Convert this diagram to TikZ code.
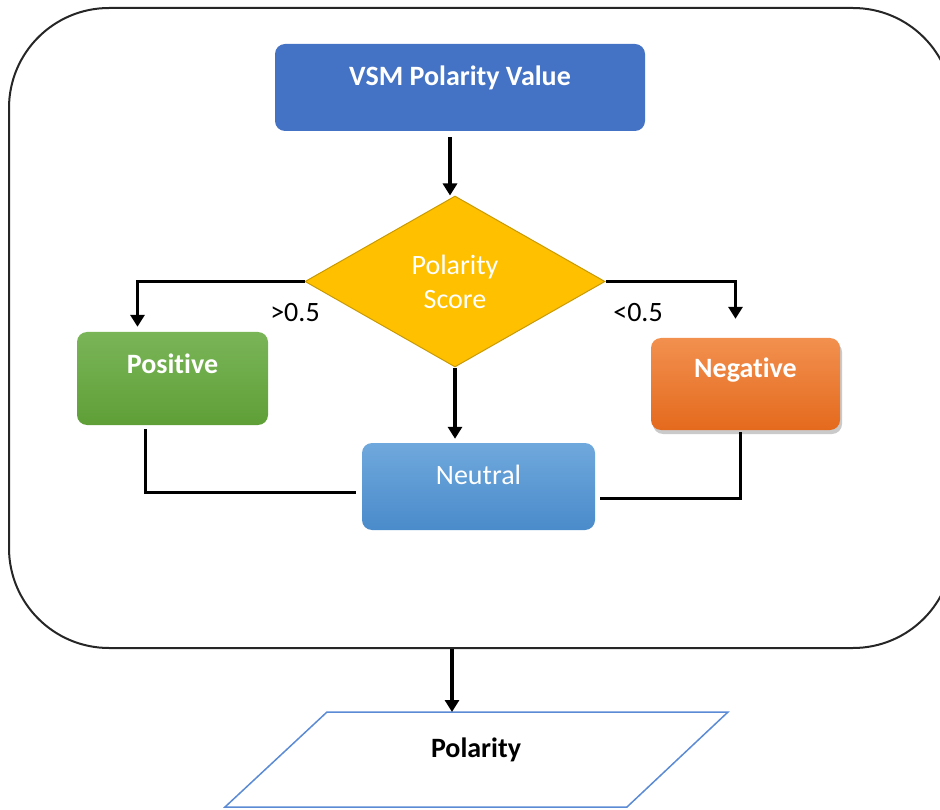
\documentclass[tikz,border=0pt]{standalone}
\usepackage{fontspec}
\setmainfont{Carlito}[Ligatures=NoCommon]
\usetikzlibrary{shapes.geometric,arrows.meta,shadows,calc}

\definecolor{vsmblue}{HTML}{4472C4}
\definecolor{gold}{HTML}{FFC000}
\definecolor{golddark}{HTML}{C99A00}
\definecolor{greentop}{HTML}{7AB558}
\definecolor{greenbot}{HTML}{5F9F37}
\definecolor{orangetop}{HTML}{F2904F}
\definecolor{orangebot}{HTML}{E46A1D}
\definecolor{bluetop}{HTML}{6FA8DC}
\definecolor{bluebot}{HTML}{4A8BCB}
\definecolor{outline}{HTML}{5B8BD5}

\tikzset{
  every node/.style={font=\fontsize{28}{34}\selectfont},
  flowbox/.style={rectangle, rounded corners=10pt, draw=none, inner sep=0pt},
  boxtext/.style={text=white},
  boldtext/.style={font=\fontsize{28}{34}\selectfont\bfseries},
  conn/.style={line width=3.2pt, black},
  arr/.style={conn, -{Triangle[width=14pt,length=12pt]}},
  cond/.style={text=black},
}

\begin{document}
\begin{tikzpicture}[x=1pt,y=-1pt]
  \useasboundingbox (0,0) rectangle (940,810);
  \clip (0,0) rectangle (940,810);

  % enclosing frame
  \node[rectangle, rounded corners=100pt, draw=black!85, line width=2pt,
        minimum width=944pt, minimum height=640pt] (frame) at (481,328) {};

  % input box
  \node[flowbox, fill=vsmblue, minimum width=370pt, minimum height=87pt,
        label={[boxtext, boldtext, yshift=10pt]center:VSM Polarity Value}]
        (vsm) at (460,87.5) {};

  % decision
  \node[diamond, fill=gold, draw=golddark, line width=1pt, inner sep=0pt,
        minimum width=300pt, minimum height=171pt, align=center, text=white]
        (dia) at (455,281.5) {Polarity\\[0pt]Score};

  % outcomes
  \node[flowbox, top color=greentop, bottom color=greenbot,
        minimum width=191pt, minimum height=93pt,
        label={[boxtext, boldtext, yshift=15pt]center:Positive}]
        (pos) at (172.5,378.5) {};
  \node[flowbox, top color=orangetop, bottom color=orangebot,
        minimum width=189pt, minimum height=92pt,
        drop shadow={shadow xshift=2pt, shadow yshift=-4pt, opacity=0.35, fill=black!60},
        label={[boxtext, boldtext, yshift=14pt]center:Negative}]
        (neg) at (745.5,384) {};
  \node[flowbox, top color=bluetop, bottom color=bluebot,
        minimum width=233pt, minimum height=87pt,
        label={[boxtext, yshift=12pt]center:Neutral}]
        (neu) at (478.5,486.5) {};

  % branch labels
  \node[cond] (gt) at (295,313) {>0.5};
  \node[cond] (lt) at (638,313) {<0.5};

  % output parallelogram
  \coordinate (pa) at (225,807);
  \coordinate (pb) at (627,807);
  \coordinate (pc) at (728,712);
  \coordinate (pd) at (327,712);
  \draw[outline, line width=1.5pt, fill=white] (pa) -- (pb) -- (pc) -- (pd) -- cycle;
  \node[boldtext, text=black] (res) at (476,750) {Polarity};
  \coordinate (restop) at (452,712);

  % connectors
  \draw[arr] (dia.north |- vsm.south) ++(-5,6) -- ([xshift=-5pt]dia.north);
  \draw[arr, shorten >=5pt] (dia.west) -| ([xshift=-35pt]pos.north);
  \draw[arr, shorten >=19pt] (dia.east) -| ([xshift=-10pt]neg.north);
  \draw[arr, shorten >=4pt] (dia.south) -- (dia.south |- neu.north);
  \draw[conn, shorten <=4pt, shorten >=6pt] ([xshift=-27pt]pos.south) |- ([yshift=-6pt]neu.west);
  \draw[conn, shorten <=2pt, shorten >=5pt] ([xshift=-5pt]neg.south) |- ([yshift=-12pt]neu.east);
  \draw[arr] (frame.south -| restop) -- (restop);
\end{tikzpicture}
\end{document}
